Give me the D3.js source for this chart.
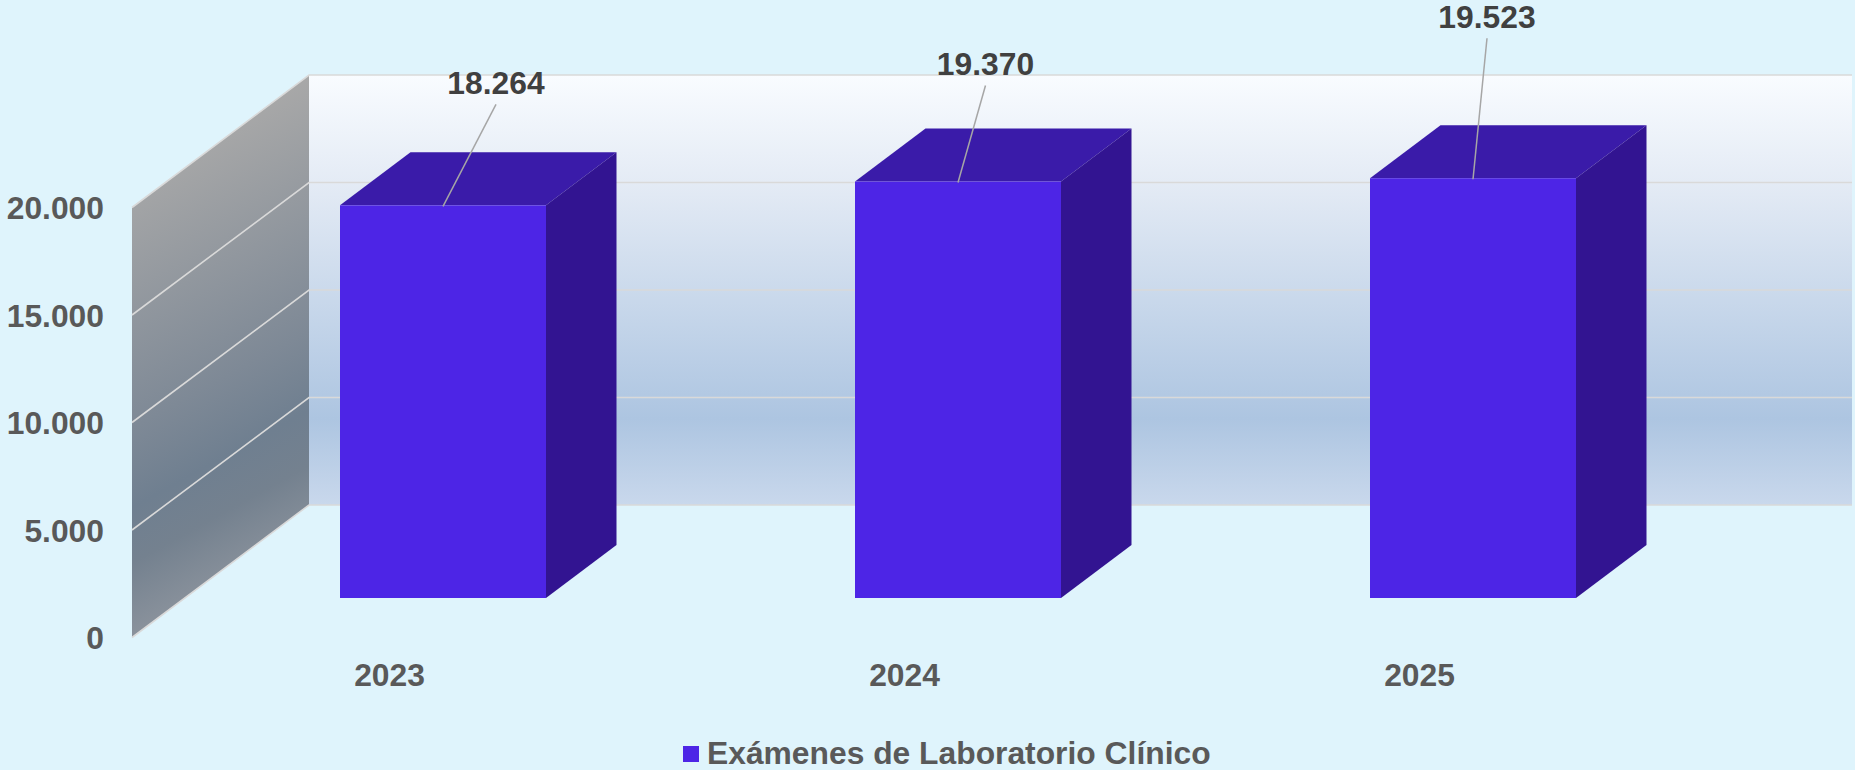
<!DOCTYPE html>
<html>
<head>
<meta charset="utf-8">
<style>
  html, body { margin: 0; padding: 0; background: #dff4fc; overflow: hidden; }
  svg { display: block; font-family: "Liberation Sans", Arial, sans-serif; font-weight: bold; }
</style>
<script src="https://cdn.jsdelivr.net/npm/d3@7"></script>
</head>
<body>
<div id="chart"></div>
<script>
// data
const years = ["2023", "2024", "2025"];
const examenes = [18264, 19370, 19523];
const yTicks = [0, 5000, 10000, 15000, 20000];
const seriesName = "Exámenes de Laboratorio Clínico";

let svgWidth = 1855;
let svgHeight = 770;

// the fake 3d box: front plane of the left wall, and how far back the wall goes
let wallX = 132;
let wallBottom = 637.5;
let wallRight = 1852;
let wallDepth = { x: 177, y: -132.5 };
// bars stand partly inside the box and have their own depth
let barBottom = 598;
let barDepth = { x: 70.5, y: -53 };

// manual label placement, same order as the values
let labelDx = [53, 27.5, 14];
let labelRise = [111, 106.5, 150];
let leaderRise = [101, 96, 140];

let fontSize = 31.8;

let svg = d3.select("#chart")
  .append("svg")
  .attr("width", svgWidth)
  .attr("height", svgHeight);

let defs = svg.append("defs");

let backGrad = defs.append("linearGradient")
  .attr("id", "backWall")
  .attr("x1", 0).attr("y1", 0).attr("x2", 0).attr("y2", 1);
[[0, "#f9fcff"], [0.25, "#e4ebf5"], [0.8, "#adc5e1"], [1, "#c9d8ec"]].forEach(s => {
  backGrad.append("stop").attr("offset", s[0]).attr("stop-color", s[1]);
});

// bands of this gradient run roughly along the skew of the wall
let sideGrad = defs.append("linearGradient")
  .attr("id", "sideWall")
  .attr("gradientUnits", "userSpaceOnUse")
  .attr("x1", 117).attr("y1", 181).attr("x2", 313.6).attr("y2", 537.5);
[[0, "#a8a8a8"], [0.55, "#7e8996"], [0.72, "#6f7f90"], [0.84, "#74818f"], [1, "#8a929c"]].forEach(s => {
  sideGrad.append("stop").attr("offset", s[0]).attr("stop-color", s[1]);
});

let yScale = d3.scaleLinear()
  .domain([0, 20000])
  .range([0, -430]);

let xBandScale = d3.scaleBand()
  .domain(years)
  .range([340, 1576])
  .paddingInner(0.6)
  .paddingOuter(0);

let esFormat = d3.formatLocale({ decimal: ",", thousands: ".", grouping: [3], currency: ["", ""] }).format(",d");

let line = d3.line();
let backBottom = wallBottom + wallDepth.y;
let backLeft = wallX + wallDepth.x;

// back wall
svg.append("rect")
  .attr("x", backLeft)
  .attr("y", backBottom + yScale(20000))
  .attr("width", wallRight - backLeft)
  .attr("height", -yScale(20000))
  .attr("fill", "url(#backWall)");

// left wall
svg.append("path")
  .attr("d", line([
    [wallX, wallBottom + yScale(20000)],
    [backLeft, backBottom + yScale(20000)],
    [backLeft, backBottom],
    [wallX, wallBottom]
  ]) + "Z")
  .attr("fill", "url(#sideWall)");

// gridlines run along the side wall then across the back
yTicks.forEach(t => {
  svg.append("path")
    .attr("d", line([
      [wallX, wallBottom + yScale(t)],
      [backLeft, backBottom + yScale(t)],
      [wallRight, backBottom + yScale(t)]
    ]))
    .attr("fill", "none")
    .attr("stroke", "#d9d9d9")
    .attr("stroke-width", 1.6);
});

// bars
let bars = svg.selectAll(".bar")
  .data(examenes)
  .enter()
  .append("g")
  .attr("class", "bar");

let barPoints = (d, i) => {
  let x0 = xBandScale(years[i]);
  let x1 = x0 + xBandScale.bandwidth();
  let top = barBottom + yScale(d);
  return { x0, x1, top };
};

bars.append("path")
  .attr("d", (d, i) => {
    let p = barPoints(d, i);
    return line([[p.x0, p.top], [p.x0 + barDepth.x, p.top + barDepth.y], [p.x1 + barDepth.x, p.top + barDepth.y], [p.x1, p.top]]) + "Z";
  })
  .attr("fill", "#3a1ba9");

bars.append("path")
  .attr("d", (d, i) => {
    let p = barPoints(d, i);
    return line([[p.x1, p.top], [p.x1 + barDepth.x, p.top + barDepth.y], [p.x1 + barDepth.x, barBottom + barDepth.y], [p.x1, barBottom]]) + "Z";
  })
  .attr("fill", "#321491");

bars.append("rect")
  .attr("x", (d, i) => barPoints(d, i).x0)
  .attr("y", (d, i) => barPoints(d, i).top)
  .attr("width", xBandScale.bandwidth())
  .attr("height", d => -yScale(d))
  .attr("fill", "#4d25e6");

// leader lines and value labels
bars.append("line")
  .attr("x1", (d, i) => xBandScale(years[i]) + xBandScale.bandwidth() / 2)
  .attr("y1", (d, i) => barPoints(d, i).top + 1)
  .attr("x2", (d, i) => xBandScale(years[i]) + xBandScale.bandwidth() / 2 + labelDx[i])
  .attr("y2", (d, i) => barPoints(d, i).top - leaderRise[i])
  .attr("stroke", "#a6a6a6")
  .attr("stroke-width", 1.5);

bars.append("text")
  .attr("x", (d, i) => xBandScale(years[i]) + xBandScale.bandwidth() / 2 + labelDx[i])
  .attr("y", (d, i) => barPoints(d, i).top - labelRise[i])
  .attr("text-anchor", "middle")
  .attr("font-size", fontSize)
  .attr("fill", "#404040")
  .text(d => esFormat(d));

// axes, only the labels are visible
let leftAxis = d3.axisLeft(yScale)
  .tickValues(yTicks)
  .tickFormat(esFormat)
  .tickSize(0)
  .tickPadding(0);

let yAxisGroup = svg.append("g")
  .attr("transform", `translate(104, ${wallBottom + 1})`)
  .call(leftAxis);

let bottomAxis = d3.axisBottom(xBandScale)
  .tickSize(0)
  .tickPadding(0);

let xAxisGroup = svg.append("g")
  .attr("transform", `translate(-53.5, 663)`)
  .call(bottomAxis);

[yAxisGroup, xAxisGroup].forEach(g => {
  g.select(".domain").remove();
  g.selectAll("text")
    .attr("font-family", "Liberation Sans")
    .attr("font-weight", "bold")
    .attr("font-size", fontSize)
    .attr("fill", "#595959");
});

// legend
svg.append("rect")
  .attr("x", 683)
  .attr("y", 746)
  .attr("width", 16)
  .attr("height", 16)
  .attr("fill", "#4d25e6");

svg.append("text")
  .attr("x", 707)
  .attr("y", 764)
  .attr("font-size", fontSize)
  .attr("fill", "#595959")
  .text(seriesName);
</script>
</body>
</html>
